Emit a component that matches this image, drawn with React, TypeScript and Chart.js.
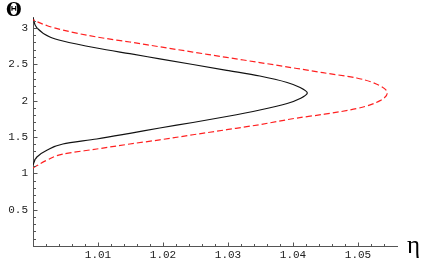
import React, { useEffect, useRef } from "react";
import { Chart, registerables } from "chart.js";

Chart.register(...registerables);

// Black solid curve (eta, Theta), ordered from bottom to top
const blackEta = [1.0, 1.0006, 1.0022, 1.0046, 1.0098, 1.0149, 1.0195, 1.0246, 1.0298, 1.0349, 1.0391, 1.0411, 1.0422, 1.0411, 1.0391, 1.0349, 1.0298, 1.0246, 1.0195, 1.0149, 1.0098, 1.0046, 1.0026, 1.0006, 1.0];
const blackTheta = [1.114, 1.224, 1.32, 1.403, 1.472, 1.55, 1.623, 1.699, 1.781, 1.871, 1.96, 2.029, 2.104, 2.18, 2.249, 2.338, 2.417, 2.497, 2.575, 2.645, 2.724, 2.82, 2.875, 3.0, 3.136];

// Red dashed curve (eta, Theta)
const redEta = [1.0, 1.0022, 1.0046, 1.0098, 1.0149, 1.0195, 1.0246, 1.0298, 1.0349, 1.0406, 1.0446, 1.0498, 1.0534, 1.0545, 1.0534, 1.0498, 1.0446, 1.0406, 1.0349, 1.0298, 1.0246, 1.0195, 1.0149, 1.0098, 1.0046, 1.0022, 1.0];
const redTheta = [1.073, 1.183, 1.265, 1.334, 1.403, 1.46, 1.53, 1.6, 1.67, 1.76, 1.81, 1.89, 2.0, 2.105, 2.204, 2.311, 2.384, 2.442, 2.523, 2.594, 2.668, 2.74, 2.806, 2.875, 2.97, 3.03, 3.11];

const xTickValues = [1.01, 1.02, 1.03, 1.04, 1.05];
const yTickValues = [0.5, 1, 1.5, 2, 2.5, 3];

const X_MIN = 1.0;
const X_MAX = 1.056;
const Y_MIN = 0;
const Y_MAX = 3.15;

const tickPlugin = {
  id: "mmaTicks",
  afterDraw(chart: any) {
    const ctx = chart.ctx;
    const xs = chart.scales.x;
    const ys = chart.scales.y;
    const area = chart.chartArea;
    const axisY = Math.round(area.bottom) + 0.5;
    const axisX = Math.round(area.left) + 0.5;
    ctx.save();
    ctx.strokeStyle = "#555";
    ctx.lineWidth = 1;
    for (let i = 1; i * 0.002 + X_MIN < X_MAX; i++) {
      const v = X_MIN + i * 0.002;
      const major = i % 5 === 0;
      const px = Math.round(xs.getPixelForValue(v)) + 0.5;
      ctx.beginPath();
      ctx.moveTo(px, axisY);
      ctx.lineTo(px, axisY - (major ? 4 : 2.5));
      ctx.stroke();
    }
    for (let i = 1; i * 0.1 + Y_MIN < Y_MAX; i++) {
      const v = Y_MIN + i * 0.1;
      const major = i % 5 === 0;
      const py = Math.round(ys.getPixelForValue(v)) + 0.5;
      ctx.beginPath();
      ctx.moveTo(axisX, py);
      ctx.lineTo(axisX + (major ? 4 : 2.5), py);
      ctx.stroke();
    }
    ctx.restore();
  },
};

export default function App() {
  const canvasRef = useRef<HTMLCanvasElement | null>(null);

  useEffect(() => {
    if (!canvasRef.current) return;
    const black = blackEta.map((x, i) => ({ x, y: blackTheta[i] }));
    const red = redEta.map((x, i) => ({ x, y: redTheta[i] }));
    const tickFont = { family: "'Liberation Mono', 'DejaVu Sans Mono', monospace", size: 11 };
    const chart = new Chart(canvasRef.current, {
      type: "scatter",
      data: {
        datasets: [
          {
            data: red,
            showLine: true,
            indexAxis: "y",
            borderColor: "#ff2020",
            borderWidth: 1.2,
            borderDash: [6, 3],
            pointRadius: 0,
            cubicInterpolationMode: "monotone",
            fill: false,
          },
          {
            data: black,
            showLine: true,
            indexAxis: "y",
            borderColor: "#111",
            borderWidth: 1.2,
            pointRadius: 0,
            cubicInterpolationMode: "monotone",
            fill: false,
          },
        ],
      },
      options: {
        responsive: false,
        animation: false,
        indexAxis: "y",
        events: [],
        layout: { padding: { left: 0, right: 24, top: 17, bottom: 0 } },
        plugins: {
          legend: { display: false },
          tooltip: { enabled: false },
        },
        scales: {
          x: {
            type: "linear",
            min: X_MIN,
            max: X_MAX,
            grid: { display: false, drawTicks: false },
            border: { display: true, color: "#555", width: 1 },
            afterBuildTicks: (scale: any) => {
              scale.ticks = xTickValues.map((value) => ({ value }));
            },
            afterFit: (scale: any) => {
              scale.height = 18;
            },
            ticks: {
              autoSkip: false,
              maxRotation: 0,
              padding: 2,
              color: "#222",
              font: tickFont,
              callback: (v: any) => Number(v).toFixed(2),
            },
          },
          y: {
            type: "linear",
            min: Y_MIN,
            max: Y_MAX,
            grid: { display: false, drawTicks: false },
            border: { display: true, color: "#555", width: 1 },
            afterBuildTicks: (scale: any) => {
              scale.ticks = yTickValues.map((value) => ({ value }));
            },
            afterFit: (scale: any) => {
              scale.width = 33;
            },
            ticks: {
              autoSkip: false,
              padding: 5,
              color: "#222",
              font: tickFont,
              callback: (v: any) => String(v),
            },
          },
        },
      },
      plugins: [tickPlugin],
    });
    return () => chart.destroy();
  }, []);

  return (
    <div style={{ position: "fixed", left: 0, top: 0, width: 421, height: 264, background: "#fff" }}>
      <canvas ref={canvasRef} width={421} height={264} style={{ display: "block", position: "absolute", left: 0, top: 0 }} />
      <span
        style={{
          position: "absolute",
          left: 6,
          top: 1,
          fontFamily: "'DejaVu Serif', serif",
          fontWeight: "bold",
          fontSize: 18,
          lineHeight: 1,
          color: "#000",
        }}
      >
        Θ
      </span>
      <span
        style={{
          position: "absolute",
          left: 407,
          top: 232,
          fontFamily: "'Liberation Serif', serif",
          fontSize: 25,
          lineHeight: 1,
          color: "#000",
        }}
      >
        η
      </span>
    </div>
  );
}
